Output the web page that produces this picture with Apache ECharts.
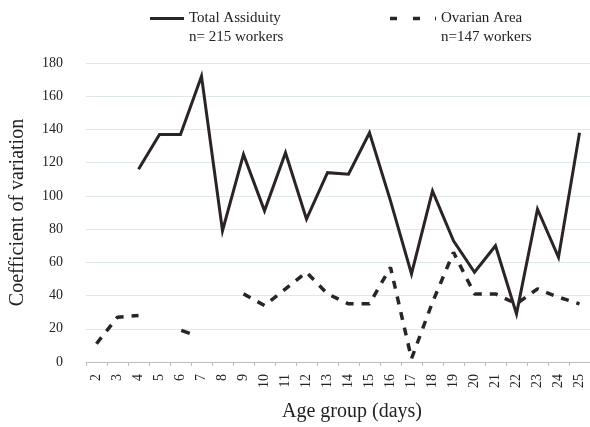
<!DOCTYPE html>
<html>
<head>
<meta charset="utf-8">
<script src="https://cdn.jsdelivr.net/npm/echarts@6/dist/echarts.min.js"></script>
<style>
html,body{margin:0;padding:0;background:#fff;}
#chart{width:590px;height:427px;}
</style>
</head>
<body>
<div id="chart"></div>
<script>
var categories = ['2','3','4','5','6','7','8','9','10','11','12','13','14','15','16','17','18','19','20','21','22','23','24','25'];
var totalAssiduity = [null, null, 116, 137, 137, 172, 79, 125, 91, 126, 86, 114, 113, 138, 97, 53, 103, 73, 54, 70, 29, 92, 63, 138];
var ovarianArea = [11, 27, 28, null, 19, null, null, 41, 34, 44, 54, 41, 35, 35, 57, 2, 36, 66, 41, 41, 35, 44, 39, 35];
var yTicks = [0, 20, 40, 60, 80, 100, 120, 140, 160, 180];
var seriesNames = ['Total Assiduity', 'Ovarian Area'];
var seriesCounts = ['n= 215 workers', 'n=147 workers'];

var ink = '#2b2426';
var serif = '"Liberation Serif", "DejaVu Serif", serif';

// an isolated point (neighbours missing) is shown as a short dash
var ovarianData = ovarianArea.map(function (v, i) {
  var prev = i > 0 ? ovarianArea[i - 1] : null;
  var next = i < ovarianArea.length - 1 ? ovarianArea[i + 1] : null;
  if (v !== null && prev === null && next === null) {
    return { value: v, symbol: 'rect', symbolSize: [9, 3.5], symbolRotate: -20, symbolOffset: [5, 1.5] };
  }
  return v;
});

var chart = echarts.init(document.getElementById('chart'), null, { renderer: 'canvas' });
chart.setOption({
  animation: false,
  backgroundColor: '#fff',
  textStyle: { fontFamily: serif },
  grid: { left: 81, top: 63, width: 510, bottom: 63, containLabel: false },
  legend: [
    {
      data: [{ name: seriesNames[0], icon: 'path://M0,0H34V3H0Z' }],
      left: 150, top: 11, padding: 0, itemWidth: 34, itemHeight: 3, selectedMode: false,
      itemStyle: { color: ink },
      textStyle: { fontFamily: serif, fontSize: 15, color: '#222' }
    },
    {
      data: [{ name: seriesNames[1], icon: 'path://M0,0H7V3.5H0Z M23,0H30V3.5H23Z M45,0H46V3.5H45Z' }],
      left: 390, top: 11, padding: 0, itemWidth: 46, itemHeight: 3.5, selectedMode: false,
      itemStyle: { color: ink },
      textStyle: { fontFamily: serif, fontSize: 15, color: '#222' }
    }
  ],
  graphic: [
    { type: 'text', left: 189, top: 30, style: { text: seriesCounts[0], font: '15px ' + serif, fill: '#222' } },
    { type: 'text', left: 441, top: 30, style: { text: seriesCounts[1], font: '15px ' + serif, fill: '#222' } }
  ],
  xAxis: {
    type: 'category',
    data: categories,
    boundaryGap: true,
    name: 'Age group (days)',
    nameLocation: 'middle',
    nameGap: 40,
    nameTextStyle: { fontFamily: serif, fontSize: 20, color: '#222', padding: [0, 0, 0, 28] },
    axisLine: { lineStyle: { color: '#bdbdbd', width: 1 } },
    axisTick: { show: true, length: 4, lineStyle: { color: '#bdbdbd' } },
    axisLabel: { rotate: 90, fontFamily: serif, fontSize: 14, color: '#222', margin: 12 },
    splitLine: { show: false }
  },
  yAxis: {
    type: 'value',
    min: 0,
    max: 180,
    interval: 20,
    name: 'Coefficient of variation',
    nameLocation: 'middle',
    nameGap: 58,
    nameTextStyle: { fontFamily: serif, fontSize: 20, color: '#222' },
    axisLine: { show: false },
    axisTick: { show: false },
    axisLabel: {
      fontFamily: serif, fontSize: 14, color: '#222', margin: 23,
      formatter: function (v) { return yTicks.indexOf(v) >= 0 ? String(v) : ''; }
    },
    splitLine: { lineStyle: { color: '#dfe8ea', width: 1 } }
  },
  series: [
    {
      name: seriesNames[0],
      type: 'line',
      data: totalAssiduity,
      symbol: 'none',
      connectNulls: false,
      color: ink,
      lineStyle: { color: ink, width: 3, type: 'solid', cap: 'butt', join: 'miter' },
      z: 3
    },
    {
      name: seriesNames[1],
      type: 'line',
      data: ovarianData,
      symbol: 'none',
      showSymbol: true,
      showAllSymbol: true,
      connectNulls: false,
      color: ink,
      itemStyle: { color: ink },
      lineStyle: { color: ink, width: 3.5, type: [8, 8], cap: 'butt' },
      z: 2
    }
  ]
});
</script>
</body>
</html>
